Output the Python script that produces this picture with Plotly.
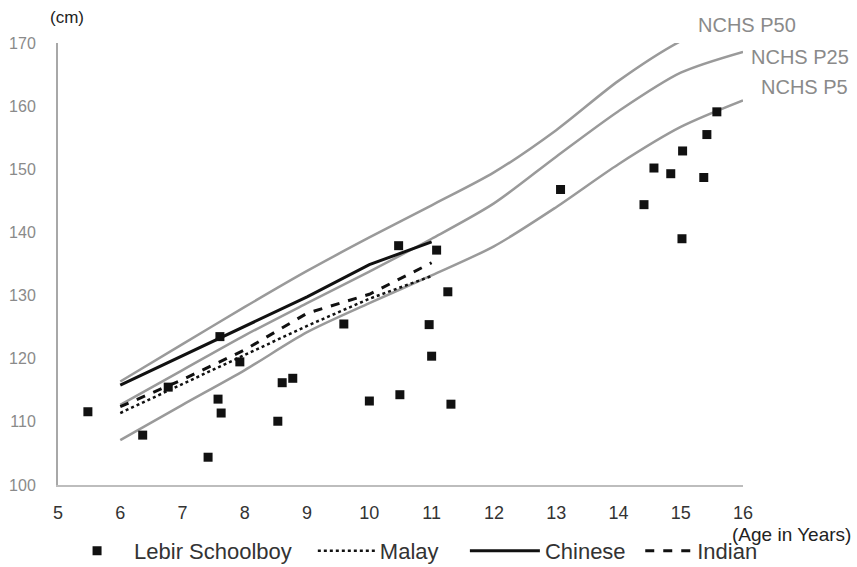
import plotly.graph_objects as go

# ---- data ----
ages_int = [6, 7, 8, 9, 10, 11, 12, 13, 14, 15, 16]
nchs_p5 = [107.1, 112.7, 118.2, 124.2, 128.8, 133.2, 137.8, 144.0, 150.8, 156.7, 160.9]
nchs_p25 = [112.7, 118.2, 123.7, 128.8, 133.8, 139.0, 144.6, 152.0, 159.2, 165.3, 168.6]
nchs_p50 = [116.4, 122.3, 128.2, 133.9, 139.2, 144.3, 149.5, 156.2, 164.0, 170.3, 174.5]

ethnic_ages = [6, 7, 8, 9, 10, 11]
malay = [111.4, 116.0, 120.6, 125.2, 129.5, 133.1]
chinese = [115.8, 120.5, 125.2, 129.8, 134.9, 138.5]
indian = [112.4, 116.7, 121.4, 127.2, 130.2, 135.2]

lebir_age = [5.48, 6.36, 6.77, 7.41, 7.57, 7.60, 7.62, 7.92, 8.53, 8.60, 8.77,
             9.59, 10.00, 10.47, 10.49, 10.96, 11.00, 11.08, 11.26, 11.31,
             13.07, 14.41, 14.57, 14.84, 15.02, 15.03, 15.37, 15.42, 15.58]
lebir_height = [111.6, 107.9, 115.5, 104.4, 113.6, 123.5, 111.4, 119.5, 110.1, 116.2, 116.9,
                125.5, 113.3, 137.9, 114.3, 125.4, 120.4, 137.2, 130.6, 112.8,
                146.8, 144.4, 150.2, 149.3, 139.0, 152.9, 148.7, 155.5, 159.1]

x_ticks = list(range(5, 17))
y_ticks = list(range(100, 171, 10))

FONT = "Liberation Sans, Arial, sans-serif"
GRAY = "#9a9a9a"
INK = "#111111"

fig = go.Figure()

for vals in (nchs_p50, nchs_p25, nchs_p5):
    fig.add_trace(go.Scatter(x=ages_int, y=vals, mode="lines",
                             line=dict(color=GRAY, width=2.5, shape="spline", smoothing=0.8),
                             showlegend=False, hoverinfo="skip"))

fig.add_trace(go.Scatter(x=lebir_age, y=lebir_height, mode="markers", name="Lebir Schoolboy",
                         marker=dict(symbol="square", size=9, color=INK), legend="legend"))
fig.add_trace(go.Scatter(x=ethnic_ages, y=malay, mode="lines", name="Malay",
                         line=dict(color=INK, width=2.5, dash="dot"), legend="legend2"))
fig.add_trace(go.Scatter(x=ethnic_ages, y=chinese, mode="lines", name="Chinese",
                         line=dict(color=INK, width=3), legend="legend3"))
fig.add_trace(go.Scatter(x=ethnic_ages, y=indian, mode="lines", name="Indian",
                         line=dict(color=INK, width=3, dash="dash"), legend="legend4"))


def leg(x, w):
    return dict(orientation="h", x=x, xanchor="left", y=-0.149, yanchor="middle",
                font=dict(size=22, color="#333333", family=FONT),
                itemwidth=w, bgcolor="rgba(0,0,0,0)")


fig.update_layout(
    width=857, height=567,
    margin=dict(l=58, r=114, t=43, b=82, autoexpand=False),
    paper_bgcolor="white", plot_bgcolor="white",
    font=dict(family=FONT, color="#333333"),
    showlegend=True,
    legend=leg(0.003, 64),
    legend2=leg(0.372, 57),
    legend3=leg(0.594, 70),
    legend4=leg(0.850, 47),
    xaxis=dict(range=[5, 16], tickvals=x_ticks, showgrid=False, zeroline=False,
               showline=True, linecolor="#bdbdbd", linewidth=2,
               ticks="", ticklabelstandoff=10,
               tickfont=dict(size=18, color="#333333", family=FONT)),
    yaxis=dict(range=[100, 170], tickvals=y_ticks, showgrid=False, zeroline=False,
               showline=True, linecolor="#a8a8a8", linewidth=2,
               ticks="", ticklabelstandoff=17,
               tickfont=dict(size=16, color="#8a8a8a", family=FONT)),
    annotations=[
        dict(text="(cm)", xref="paper", yref="paper", x=0.013, y=1.057, showarrow=False,
             xanchor="center", yanchor="middle", font=dict(size=17, color="#222222")),
        dict(text="(Age in Years)", xref="paper", yref="paper", x=1.1606, y=-0.113,
             showarrow=False, xanchor="right", yanchor="middle",
             font=dict(size=19, color="#222222")),
        dict(text="NCHS P50", xref="paper", yref="paper", x=0.931, y=1.041, showarrow=False,
             xanchor="left", yanchor="middle", font=dict(size=20, color="#8a8a8a")),
        dict(text="NCHS P25", xref="paper", yref="paper", x=1.009, y=0.968, showarrow=False,
             xanchor="left", yanchor="middle", font=dict(size=20, color="#8a8a8a")),
        dict(text="NCHS P5", xref="paper", yref="paper", x=1.023, y=0.900, showarrow=False,
             xanchor="left", yanchor="middle", font=dict(size=20, color="#8a8a8a")),
    ],
)

fig.write_html("out.html")
